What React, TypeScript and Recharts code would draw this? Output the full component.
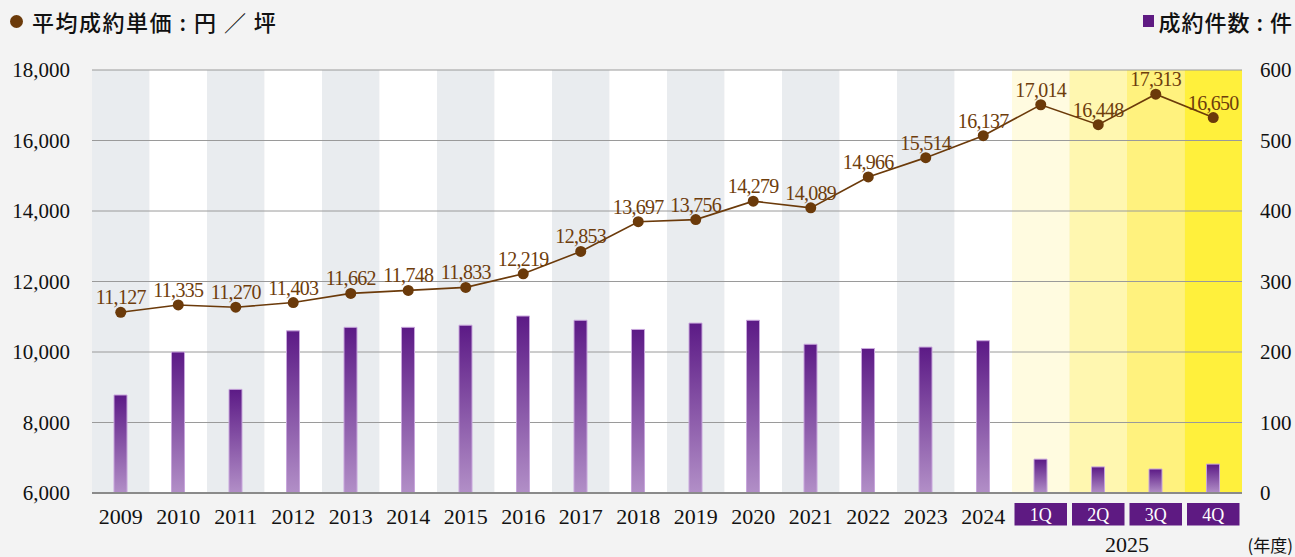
import React from 'react';
import {
  ComposedChart,
  Bar,
  Line,
  XAxis,
  YAxis,
  CartesianGrid,
  ReferenceArea,
  LabelList,
} from 'recharts';

const categories = [
  '2009', '2010', '2011', '2012', '2013', '2014', '2015', '2016',
  '2017', '2018', '2019', '2020', '2021', '2022', '2023', '2024',
  '1Q', '2Q', '3Q', '4Q',
];
const unitPrice = [
  11127, 11335, 11270, 11403, 11662, 11748, 11833, 12219,
  12853, 13697, 13756, 14279, 14089, 14966, 15514, 16137,
  17014, 16448, 17313, 16650,
];
const contracts = [
  139, 200, 147, 230, 235, 235, 238, 251,
  245, 232, 241, 245, 211, 205, 207, 216,
  48, 37, 34, 41,
];
const priceTicks = [6000, 8000, 10000, 12000, 14000, 16000, 18000];
const countTicks = [0, 100, 200, 300, 400, 500, 600];

const data = categories.map((cat, i) => ({
  cat,
  price: unitPrice[i],
  count: contracts[i],
}));

const SERIF = '"Liberation Serif", "Times New Roman", "Noto Sans CJK JP", serif';
const JP = '"Noto Sans CJK JP", "Liberation Serif", serif';
const BROWN = '#6b3a0a';
const PURPLE = '#5e1a82';
const quarterShades = ['#fffbe0', '#fff7b0', '#fff27e', '#fff03c'];

const stripeFill = (i: number) =>
  i < 16 ? (i % 2 === 0 ? '#e9ecef' : '#ffffff') : quarterShades[i - 16];

const fmt = (v: number) => v.toLocaleString('en-US');

const XTick = (props: any) => {
  const { x, y, payload } = props;
  const v: string = payload.value;
  const half: number = payload.offset || 28.7;
  if (v.endsWith('Q')) {
    return (
      <g>
        <rect x={x - half + 2.5} y={y + 10} width={half * 2 - 5} height={22.5} fill={PURPLE} />
        <text
          x={x}
          y={y + 22}
          textAnchor="middle"
          dominantBaseline="central"
          fill="#fff"
          fontSize={18}
          fontFamily={SERIF}
        >
          {v}
        </text>
        {v === '2Q' && (
          <text
            x={x + half}
            y={y + 51}
            textAnchor="middle"
            dominantBaseline="central"
            fill="#111"
            fontSize={22}
            fontFamily={SERIF}
          >
            2025
          </text>
        )}
      </g>
    );
  }
  return (
    <text
      x={x}
      y={y + 23}
      textAnchor="middle"
      dominantBaseline="central"
      fill="#111"
      fontSize={22}
      fontFamily={SERIF}
    >
      {v}
    </text>
  );
};

export default function App() {
  return (
    <div
      style={{
        position: 'absolute',
        left: 0,
        top: 0,
        width: 1295,
        height: 557,
        background: '#f3f3f3',
        overflow: 'hidden',
      }}
    >
      <div
        style={{
          position: 'absolute',
          left: 10,
          top: 5,
          fontFamily: JP,
          fontSize: 22,
          fontWeight: 500,
          letterSpacing: 1.5,
          color: '#111',
          display: 'flex',
          alignItems: 'center',
          whiteSpace: 'nowrap',
        }}
      >
        <span
          style={{
            display: 'inline-block',
            width: 13,
            height: 13,
            borderRadius: '50%',
            background: BROWN,
            marginRight: 9,
          }}
        />
        平均成約単価 : 円 ／ 坪
      </div>
      <div
        style={{
          position: 'absolute',
          right: 2,
          top: 5,
          fontFamily: JP,
          fontSize: 22,
          fontWeight: 500,
          letterSpacing: 1,
          color: '#111',
          display: 'flex',
          alignItems: 'center',
          whiteSpace: 'nowrap',
        }}
      >
        <span
          style={{
            display: 'inline-block',
            width: 11,
            height: 12,
            background: PURPLE,
            marginRight: 5,
          }}
        />
        成約件数 : 件
      </div>
      <div
        style={{
          position: 'absolute',
          right: 2,
          top: 532,
          fontFamily: JP,
          fontSize: 17,
          color: '#111',
          whiteSpace: 'nowrap',
        }}
      >
        (年度)
      </div>

      <ComposedChart
        width={1295}
        height={557}
        data={data}
        margin={{ top: 70, right: 0, bottom: 0, left: 0 }}
      >
        <defs>
          <linearGradient id="barGrad" x1="0" y1="0" x2="0" y2="1">
            <stop offset="0%" stopColor="#5c1a86" />
            <stop offset="100%" stopColor="#b28fc7" />
          </linearGradient>
        </defs>
        {categories.map((c, i) => (
          <ReferenceArea
            key={c}
            x1={c}
            x2={c}
            yAxisId="left"
            fill={stripeFill(i)}
            fillOpacity={1}
            stroke="none"
            ifOverflow="visible"
            zIndex={-200}
          />
        ))}
        <CartesianGrid yAxisId="left" vertical={false} stroke="#9a9a9a" strokeWidth={1} />
        <XAxis
          dataKey="cat"
          interval={0}
          height={64}
          tickLine={false}
          tickSize={0}
          tickMargin={0}
          axisLine={{ stroke: '#8a8a8a', strokeWidth: 2 }}
          tick={<XTick />}
        />
        <YAxis
          yAxisId="left"
          orientation="left"
          width={92}
          domain={[6000, 18000]}
          ticks={priceTicks}
          tickFormatter={fmt}
          axisLine={false}
          tickLine={false}
          tickSize={0}
          tickMargin={22}
          tick={{ fill: '#111', fontSize: 21, fontFamily: SERIF }}
        />
        <YAxis
          yAxisId="right"
          orientation="right"
          width={53}
          domain={[0, 600]}
          ticks={countTicks}
          axisLine={false}
          tickLine={false}
          tickSize={0}
          tickMargin={18}
          tick={{ fill: '#111', fontSize: 21, fontFamily: SERIF, textAnchor: 'start' }}
        />
        <Bar
          yAxisId="right"
          dataKey="count"
          barSize={13}
          fill="url(#barGrad)"
          stroke="#c8a6dc"
          strokeWidth={1}
          isAnimationActive={false}
        />
        <Line
          yAxisId="left"
          type="linear"
          dataKey="price"
          stroke={BROWN}
          strokeWidth={1.6}
          dot={{ r: 5.5, fill: BROWN, stroke: BROWN, strokeWidth: 0 }}
          activeDot={false}
          isAnimationActive={false}
        >
          <LabelList
            dataKey="price"
            position="top"
            offset={8}
            formatter={(v: any) => fmt(Number(v))}
            fill="#6e3d0c"
            fontSize={20}
            fontFamily={SERIF}
            letterSpacing={-0.7}
          />
        </Line>
      </ComposedChart>
    </div>
  );
}
